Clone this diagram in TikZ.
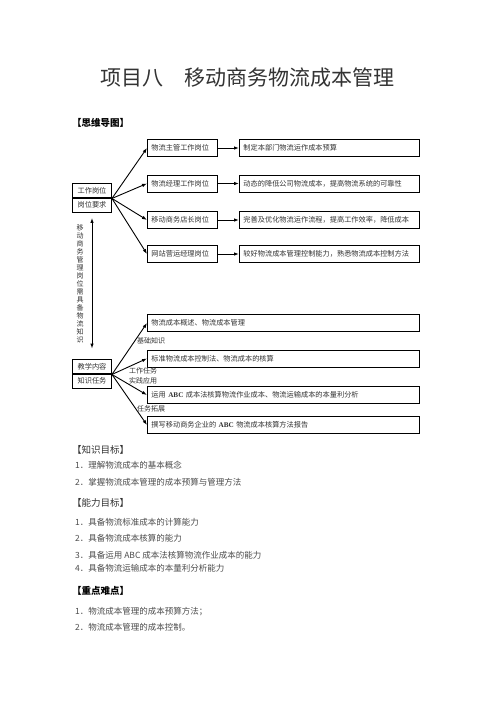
\documentclass[tikz,border=0pt]{standalone}
\usepackage{fontspec}
\setmainfont{Noto Sans CJK SC}
\newfontfamily\abcserif{Liberation Serif}
\usetikzlibrary{arrows.meta}

\newcommand\cellfont{\fontsize{7.2}{8}\selectfont\color{black!80}}
\tikzset{
  cell/.style={draw, line width=0.9pt, anchor=west, inner xsep=4pt, inner ysep=0pt, minimum height=17pt, align=left, font=\cellfont},
  job/.style={cell, text width=62pt},
  duty/.style={cell, text width=172pt},
  task/.style={cell, text width=264pt},
  half/.style={draw, line width=0.9pt, minimum width=39pt, minimum height=15pt, inner sep=0pt, font=\cellfont},
  link/.style={-{Latex[length=5pt,width=3.5pt]}, line width=0.9pt},
  tag/.style={anchor=west, inner sep=0pt, font=\fontsize{7}{8}\selectfont\color{black!80}},
  heading/.style={anchor=west, inner sep=0pt, font=\fontsize{9.5}{11}\selectfont},
  item/.style={anchor=west, inner sep=0pt, font=\fontsize{8.5}{10}\selectfont\color{black!70}},
}

\begin{document}
\begin{tikzpicture}[x=1pt,y=-1pt]
	%%%%% START %%%%%
	\fill[white] (0,0) rectangle (496,702);
	\useasboundingbox (0,0) rectangle (496,702);

	\node[inner sep=0pt, font=\fontsize{21}{24}\selectfont\color{black!80}] (title) at (247.5,78) {项目八　移动商务物流成本管理};
	\node[heading, font=\bfseries\fontsize{9.5}{11}\selectfont] (maphead) at (72,123) {【思维导图】};

	% left column
	\node[half] (postA) at (92,190.5) {工作岗位};
	\node[half] (postB) at (92,205) {岗位要求};
	\node[half] (taskA) at (92,366.5) {教学内容};
	\node[half] (taskB) at (92,381) {知识任务};

	\node[align=center, inner sep=0pt, font=\fontsize{7}{8}\selectfont\color{black!80}] (side) at (80,284)
		{移\\动\\商\\务\\管\\理\\岗\\位\\需\\具\\备\\物\\流\\知\\识};
	\draw[link, {Latex[length=5pt,width=3.5pt]}-{Latex[length=5pt,width=3.5pt]}, shorten <=5pt, shorten >=10pt] (postB.south) -- (taskA.north);

	% posts
	\node[job] (job1) at (147,148) {物流主管工作岗位};
	\node[job] (job2) at (147,183.5) {物流经理工作岗位};
	\node[job] (job3) at (147,220) {移动商务店长岗位};
	\node[job] (job4) at (147,254) {网站营运经理岗位};

	\node[duty] (duty1) at (239,148) {制定本部门物流运作成本预算};
	\node[duty] (duty2) at (239,183.5) {动态的降低公司物流成本，提高物流系统的可靠性};
	\node[duty] (duty3) at (239,220) {完善及优化物流运作流程，提高工作效率，降低成本};
	\node[duty] (duty4) at (239,254) {较好物流成本管理控制能力，熟悉物流成本控制方法};

	\foreach \i in {1,...,4} {
		\draw[link] (postA.south east) -- (job\i.west);
		\draw[link] (job\i.east) -- (duty\i.west);
	}

	% tasks
	\node[task] (know1) at (147,323) {物流成本概述、物流成本管理};
	\node[task] (know2) at (147,358.5) {标准物流成本控制法、物流成本的核算};
	\node[task] (know3) at (147,395) {运用 {\abcserif\bfseries ABC} 成本法核算物流作业成本、物流运输成本的本量利分析};
	\node[task] (know4) at (147,425) {撰写移动商务企业的 {\abcserif\bfseries ABC} 物流成本核算方法报告};

	\foreach \i in {1,...,4}
		\draw[link] (taskA.south east) -- (know\i.west);

	\node[tag] (basic) at (137,341) {基础知识};
	\node[tag] (work) at (129,371) {工作任务};
	\node[tag] (practice) at (129,381) {实践应用};
	\node[tag] (expand) at (137,409) {任务拓展};

	% goals
	\node[heading, text=black!80] (knowhead) at (72,450) {【知识目标】};
	\node[item] (k1) at (75,465) {1．理解物流成本的基本概念};
	\node[item] (k2) at (75,482) {2．掌握物流成本管理的成本预算与管理方法};

	\node[heading, text=black!80] (skillhead) at (72,503) {【能力目标】};
	\node[item] (s1) at (75,522) {1．具备物流标准成本的计算能力};
	\node[item] (s2) at (75,538) {2．具备物流成本核算的能力};
	\node[item] (s3) at (75,555) {3．具备运用 ABC 成本法核算物流作业成本的能力};
	\node[item] (s4) at (75,568) {4．具备物流运输成本的本量利分析能力};

	\node[heading, font=\bfseries\fontsize{9.5}{11}\selectfont] (keyhead) at (72,591) {【重点难点】};
	\node[item] (p1) at (75,612) {1．物流成本管理的成本预算方法；};
	\node[item] (p2) at (75,627) {2．物流成本管理的成本控制。};
	%%%%% END %%%%%
\end{tikzpicture}
\end{document}
